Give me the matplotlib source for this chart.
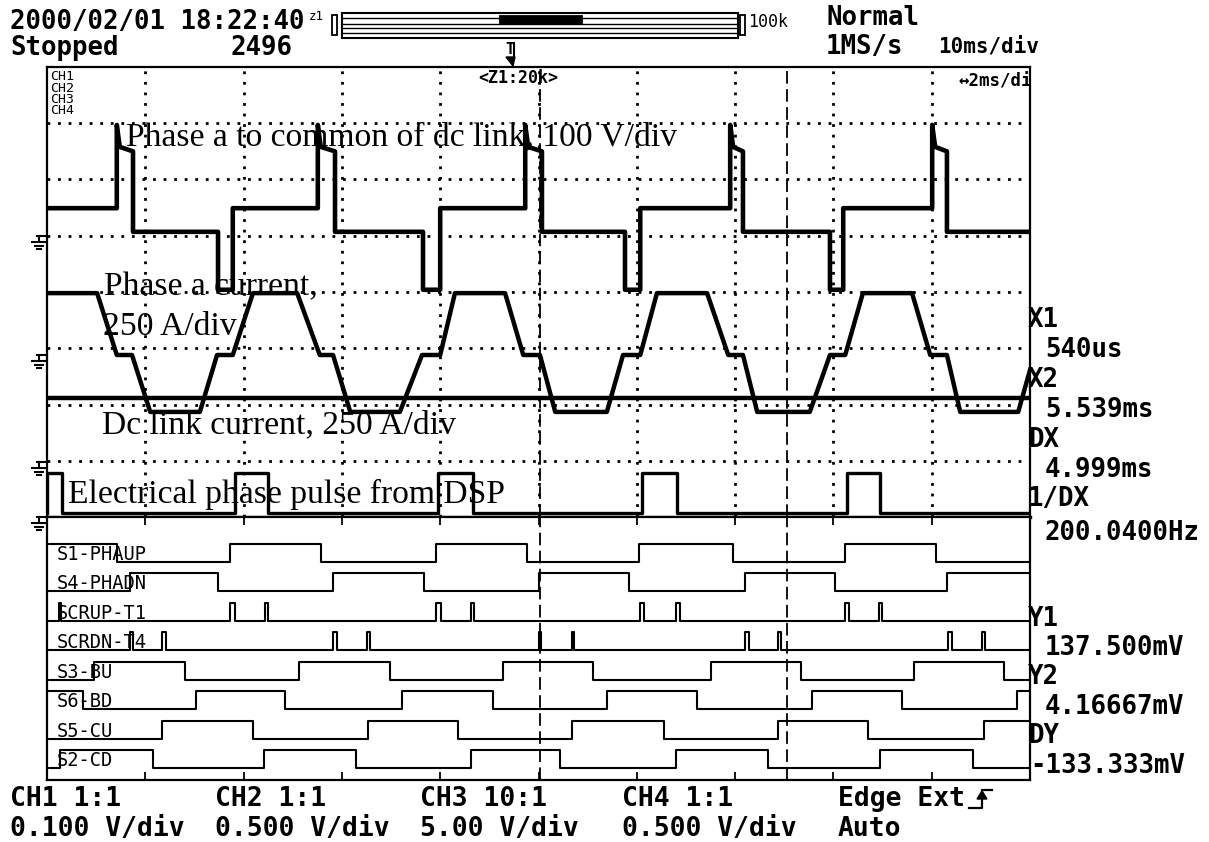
import numpy as np
import matplotlib
matplotlib.use('Agg')
import matplotlib.pyplot as plt
from matplotlib.lines import Line2D
from matplotlib.patches import Rectangle, Polygon

W, H = 1209, 842
plt.rcParams['font.family'] = ['DejaVu Sans Mono', 'DejaVu Sans']

# screen = 10 div x 2 ms/div (zoom window), times in ms from left edge
T_END = 20.0
GRID_T = np.arange(2, 20, 2)
cursor_x1, cursor_x2 = 10.03, 15.06

# CH1 phase a to common of dc link (100 V/div), ground at 5 div
ch1_gnd = 5.0
ch1_edges = [1.42, 1.75, 3.48, 3.78, 5.51, 5.86, 7.65, 8.00, 9.73, 10.07,
             11.76, 12.07, 13.90, 14.16, 15.93, 16.20, 18.01, 18.31]
ch1_volts = [49, 158, 7, -96] * 4 + [49, 158, 7]
ch1_spike = 197

# CH2 phase a current (250 A/div)
ch2_gnd = 2.88
ch2_t = [0.00, 1.02, 1.42, 1.73, 2.10, 3.11, 3.46, 3.78, 4.19, 5.09, 5.55, 5.82,
         6.17, 7.18, 7.63, 8.00, 8.30, 9.32, 9.69, 10.03, 10.34, 11.39, 11.72,
         12.07, 12.41, 13.43, 13.86, 14.16, 14.45, 15.52, 15.93, 16.24, 16.60,
         17.60, 17.97, 18.31, 18.58, 19.76, 20.00]
ch2_amps = [275, 275, 0, 0, -253, -253, 0, 0, 275, 275, 0, 0,
            -253, -253, 0, 0, 275, 275, 0, 0, -253, -253, 0,
            0, 275, 275, 0, 0, -253, -253, 0, 0, 275,
            275, 0, 0, -253, -253, -67]

# CH3 dc link current (250 A/div)
ch3_gnd = 0.98
ch3_t = [0.0, 20.0]
ch3_amps = [285, 285]

# CH4 electrical phase pulse from DSP (div)
ch4_gnd = 0.0
ch4_on = [0.0, 3.83, 7.96, 12.11, 16.28]
ch4_off = [0.31, 4.50, 8.67, 12.82, 16.95]
ch4_lo, ch4_hi = 0.07, 0.78

# logic channels
logic_names = ['S1-PHAUP', 'S4-PHADN', 'SCRUP-T1', 'SCRDN-T4',
               'S3-BU', 'S6-BD', 'S5-CU', 'S2-CD']
s1_edges = [1.42, 3.72, 5.58, 7.92, 9.77, 12.05, 13.96, 16.24, 18.09]
s4_edges = [1.69, 3.48, 5.82, 7.67, 10.01, 11.84, 14.20, 16.03, 18.31]
scrup_starts = [0.24, 3.72, 4.44, 7.92, 8.63, 12.07, 12.80, 16.24, 16.93]
scrup_widths = [0.05, 0.10, 0.06, 0.10, 0.06, 0.08, 0.08, 0.08, 0.06]
scrdn_starts = [1.69, 2.34, 5.82, 6.51, 10.01, 10.68, 14.20, 14.87, 18.33, 19.02]
scrdn_widths = [0.05, 0.08, 0.08, 0.06, 0.05, 0.05, 0.08, 0.06, 0.08, 0.06]
s3_edges = [0.96, 2.81, 5.13, 6.98, 9.28, 11.11, 13.51, 15.34, 17.64, 19.47]
s6_edges = [0.73, 3.03, 4.84, 7.22, 9.07, 11.39, 13.23, 15.57, 17.40, 19.74]
s5_edges = [2.34, 4.19, 6.53, 8.36, 10.68, 12.55, 14.87, 16.70, 19.06]
s2_edges = [0.26, 2.16, 4.42, 6.29, 8.63, 10.44, 12.80, 14.67, 16.95, 18.84]
logic_init = [1, 0, 0, 0, 0, 1, 0, 0]


def step_trace(edges, levels):
    t = np.concatenate([[0.0], np.repeat(edges, 2), [T_END]])
    return t, np.repeat(levels, 2)


def logic_trace(edges, init):
    levels = [(init + i) % 2 for i in range(len(edges) + 1)]
    return step_trace(edges, levels)


def pulse_trace(starts, ends):
    edges = np.ravel(np.column_stack([starts, ends]))
    return logic_trace(edges, 0)


fig = plt.figure(figsize=(W / 100, H / 100), dpi=100)

L, R, TOP, MID, BOT = 47, 1030, 67, 517, 780
ax_a = fig.add_axes([L / W, 1 - MID / H, (R - L) / W, (MID - TOP) / H])
ax_d = fig.add_axes([L / W, 1 - BOT / H, (R - L) / W, (BOT - MID) / H])
ax_a.set_xlim(0, T_END)
ax_a.set_ylim(0, 8)
ax_d.set_xlim(0, T_END)
ax_d.set_ylim(-0.39, 8.525)

ax_a.set_xticks([])
ax_a.set_yticks([])
ax_d.set_yticks([])
ax_d.set_xticks(GRID_T)
ax_d.tick_params(axis='x', direction='in', length=6, width=1.3,
                 top=True, bottom=True, labelbottom=False)
for ax in (ax_a, ax_d):
    for s in ax.spines.values():
        s.set_linewidth(1.6)
ax_a.spines['bottom'].set_linewidth(2.4)

# dotted graticule in the analog part
dots = (0, (1, 2.8))
for t in GRID_T:
    ax_a.axvline(t, color='k', lw=2, linestyle=dots, zorder=1)
for v in range(1, 8):
    ax_a.axhline(v, color='k', lw=2, linestyle=dots, zorder=1)

# cursors
for ax in (ax_a, ax_d):
    for xc in (cursor_x1, cursor_x2):
        ax.axvline(xc, color='k', lw=1.3, linestyle=(0, (7, 3)), zorder=2)

# CH1 with overshoot on each high step
bounds = [0.0] + ch1_edges + [T_END]
t1, v1 = [], []
for a, b, lvl in zip(bounds[:-1], bounds[1:], ch1_volts):
    if lvl == max(ch1_volts):
        t1 += [a, a + 0.06, b]
        v1 += [ch1_spike, lvl, lvl - 8]
    else:
        t1 += [a, b]
        v1 += [lvl, lvl]
ax_a.plot(t1, ch1_gnd + np.array(v1) / 100, color='k', lw=3.3, zorder=3)
ax_a.plot(ch2_t, ch2_gnd + np.array(ch2_amps) / 250, color='k', lw=3.2, zorder=3)
ax_a.plot(ch3_t, ch3_gnd + np.array(ch3_amps) / 250, color='k', lw=3.2, zorder=3)
t4, l4 = pulse_trace(ch4_on, ch4_off)
ax_a.plot(t4, ch4_gnd + ch4_lo + (ch4_hi - ch4_lo) * l4, color='k', lw=2.4, zorder=3)

# logic channels
logic = [
    logic_trace(s1_edges, logic_init[0]),
    logic_trace(s4_edges, logic_init[1]),
    pulse_trace(scrup_starts, np.add(scrup_starts, scrup_widths)),
    pulse_trace(scrdn_starts, np.add(scrdn_starts, scrdn_widths)),
    logic_trace(s3_edges, logic_init[4]),
    logic_trace(s6_edges, logic_init[5]),
    logic_trace(s5_edges, logic_init[6]),
    logic_trace(s2_edges, logic_init[7]),
]
for k, ((t, lv), name) in enumerate(zip(logic, logic_names)):
    low = 7 - k
    ax_d.plot(t, low + 0.61 * lv, color='k', lw=1.5, zorder=3)
    ax_d.text(0.2, low + 0.07, name, fontsize=13.5, va='baseline', ha='left')


# ---- decorations in pixel coordinates ----
def fx(x, y):
    return x / W, 1 - y / H


def pline(xs, ys, lw=1.5):
    fig.add_artist(Line2D([x / W for x in xs], [1 - y / H for y in ys],
                          color='k', lw=lw, transform=fig.transFigure))


def prect(x0, y0, x1, y1, fill=False, lw=1.3):
    fig.add_artist(Rectangle(fx(x0, y1), (x1 - x0) / W, (y1 - y0) / H, fill=fill,
                             facecolor='k', edgecolor='k', lw=lw,
                             transform=fig.transFigure))


def label(x, y, s, size=18.5, weight='bold', **kw):
    fig.text(x / W, 1 - y / H, s, fontsize=size, fontweight=weight,
             va='center', ha='left', **kw)


# ground markers
for g in (ch1_gnd, ch2_gnd, ch3_gnd, ch4_gnd):
    yg = H - ax_a.transData.transform((0, g))[1]
    pline([L - 10, L], [yg, yg])
    pline([L - 8, L - 8], [yg, yg + 6])
    pline([L - 15, L - 1], [yg + 6, yg + 6])
    pline([L - 12, L - 4], [yg + 10, yg + 10])
    pline([L - 10, L - 6], [yg + 13, yg + 13])

# top status
label(10, 22, '2000/02/01 18:22:40')
label(309, 17, 'z1', size=9, weight='normal')
label(10, 48, 'Stopped')
label(230, 48, '2496')
label(826, 18, 'Normal')
label(826, 47, '1MS/s')
label(938, 47, '10ms/div', size=15)
label(748, 22, '100k', size=12, weight='normal')
prect(332, 15, 337, 35)
prect(740, 15, 745, 35)
prect(342, 13, 738, 38, lw=1.5)
for yy in (17.5, 23.5, 28, 33):
    pline([342, 738], [yy, yy], lw=1.0)
prect(500, 16, 582, 24, fill=True)
label(505, 50, 'T', size=11)
pline([514, 514], [43, 58], lw=1.5)
fig.add_artist(Polygon([fx(506, 57), fx(515, 57), fx(513, 66)], closed=True,
                       color='k', transform=fig.transFigure))

# screen labels
fig.text(50 / W, 1 - 70 / H, 'CH1\nCH2\nCH3\nCH4', fontsize=9.5, linespacing=0.85,
         va='top', ha='left')
label(478, 78, '<Z1:20k>', size=12)
ax_a.text((958 - L) / (R - L), (MID - 81) / (MID - TOP), '↔2ms/div',
          transform=ax_a.transAxes, fontsize=12.5, fontweight='bold',
          va='center', ha='left', clip_on=True)

# cursor read-outs
for x, y, s in [(1028, 320, 'X1'), (1045, 350, '540us'), (1028, 380, 'X2'),
                (1045, 410, '5.539ms'), (1028, 440, 'DX'), (1045, 470, '4.999ms'),
                (1028, 499, '1/DX'), (1045, 533, '200.0400Hz'),
                (1028, 619, 'Y1'), (1045, 648, '137.500mV'), (1028, 677, 'Y2'),
                (1045, 707, '4.16667mV'), (1028, 736, 'DY'), (1030, 766, '-133.333mV')]:
    label(x, y, s)

# channel settings
for x, s1, s2 in [(10, 'CH1 1:1', '0.100 V/div'), (215, 'CH2 1:1', '0.500 V/div'),
                  (420, 'CH3 10:1', '5.00 V/div'), (622, 'CH4 1:1', '0.500 V/div'),
                  (838, 'Edge Ext', 'Auto')]:
    label(x, 799, s1, size=19)
    label(x, 829, s2, size=19)
pline([969, 982, 982, 992], [808, 808, 790, 790], lw=1.6)
fig.add_artist(Polygon([fx(977, 799), fx(987, 799), fx(982, 791)], closed=True,
                       color='k', transform=fig.transFigure))

# annotations
serif = dict(family='Liberation Serif', fontsize=24.2, va='baseline', ha='left')
fig.text(*fx(126, 145), 'Phase a to common of dc link, 100 V/div', **serif)
fig.text(*fx(104, 295), 'Phase a current,', **serif)
fig.text(*fx(103, 335), '250 A/div', **serif)
fig.text(*fx(102, 433), 'Dc link current, 250 A/div', **serif)
fig.text(*fx(68, 503), 'Electrical phase pulse from DSP', **serif)

fig.savefig('out.png', dpi=100)
